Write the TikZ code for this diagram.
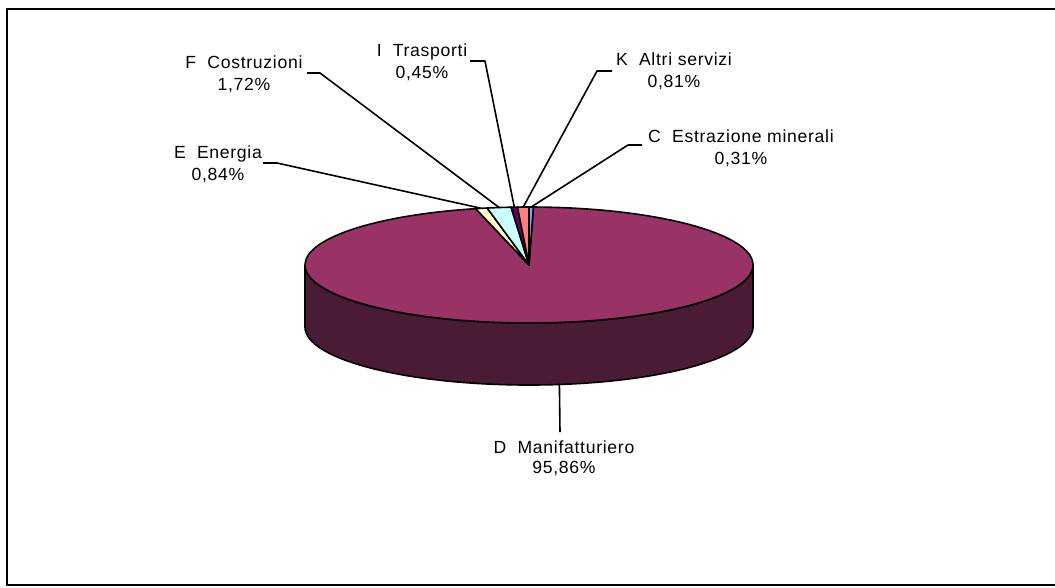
\documentclass[tikz,border=0pt]{standalone}
\usepackage{fontspec}
\setmainfont[LetterSpace=4]{Liberation Sans}
\definecolor{plum}{HTML}{993366}
\definecolor{plumside}{HTML}{4A1B35}
\definecolor{cC}{HTML}{9999FF}
\definecolor{cE}{HTML}{FFFFCC}
\definecolor{cF}{HTML}{CCFFFF}
\definecolor{cI}{HTML}{660066}
\definecolor{cK}{HTML}{FF8080}
\newcommand\piesector[3]{\filldraw[edge, fill=#3] (c) -- ++(#1:224 and 58) arc[start angle=#1, end angle=#2, x radius=224, y radius=58] -- cycle;}
\begin{document}
\begin{tikzpicture}[x=0.75pt,y=-0.75pt, line join=round,
  edge/.style={draw=black, line width=1.2pt},
  lead/.style={draw=black, line width=1.2pt},
  lbl/.style={align=center, font=\fontsize{13.2}{16.5}\selectfont, inner sep=0pt, anchor=base}]
\useasboundingbox (0,0) rectangle (1055,587);
\draw[line width=0.9pt] (1055,9) -- (7,9) -- (7,585) -- (1055,585);

\coordinate (c) at (529,265);
\coordinate (cb) at (529,327);
% side of the cylinder
\filldraw[edge, fill=plumside] (305,265) -- (305,327)
  arc[start angle=180, end angle=0, x radius=224, y radius=58] -- (753,265)
  arc[start angle=0, end angle=180, x radius=224, y radius=58] -- cycle;
% top face
\piesector{-88.884}{256.212}{plum}
\piesector{-90}{-88.884}{cC}
\piesector{256.212}{259.236}{cE}
\piesector{259.236}{265.428}{cF}
\piesector{265.428}{267.048}{cI}
\piesector{267.048}{270}{cK}

% leader end points
\path (c) ++(-89.442:224 and 58) coordinate (pC);
\path (c) ++(257.724:224 and 58) coordinate (pE);
\path (c) ++(262.332:224 and 58) coordinate (pF);
\path (c) ++(266.238:224 and 58) coordinate (pI);
\path (c) ++(268.524:224 and 58) coordinate (pK);
\path (cb) ++(82.2:224 and 58) coordinate (pD);

% labels (anchored at the baseline of the second line)
\node[lbl] (lF) at (244,90) {F\ \ Costruzioni\\1,72\%};
\node[lbl] (lE) at (218,180) {E\ \ Energia\\0,84\%};
\node[lbl] (lI) at (422,78) {I\ \ Trasporti\\0,45\%};
\node[lbl] (lK) at (674,87) {K\ \ Altri servizi\\0,81\%};
\node[lbl] (lC) at (741,164) {C\ \ Estrazione minerali\\0,31\%};
\node[lbl, font=\fontsize{13.2}{14.5}\selectfont] (lD) at (564,473) {D\ \ Manifatturiero\\95,86\%};

% elbows
\coordinate (eE1) at (263,163); \coordinate (eE2) at (277,163);
\coordinate (eF1) at (307,73);  \coordinate (eF2) at (320,73);
\coordinate (eI1) at (470,61);  \coordinate (eI2) at (485,61);
\coordinate (eK1) at (612,71);  \coordinate (eK2) at (597,71);
\coordinate (eC1) at (642,145); \coordinate (eC2) at (628,145);
\coordinate (eD) at (560,432);

\draw[lead] (eE1) -- (eE2) -- (pE);
\draw[lead] (eF1) -- (eF2) -- (pF);
\draw[lead] (eI1) -- (eI2) -- (pI);
\draw[lead] (eK1) -- (eK2) -- (pK);
\draw[lead] (eC1) -- (eC2) -- (pC);
\draw[lead] (pD) -- (eD);
\end{tikzpicture}
\end{document}
